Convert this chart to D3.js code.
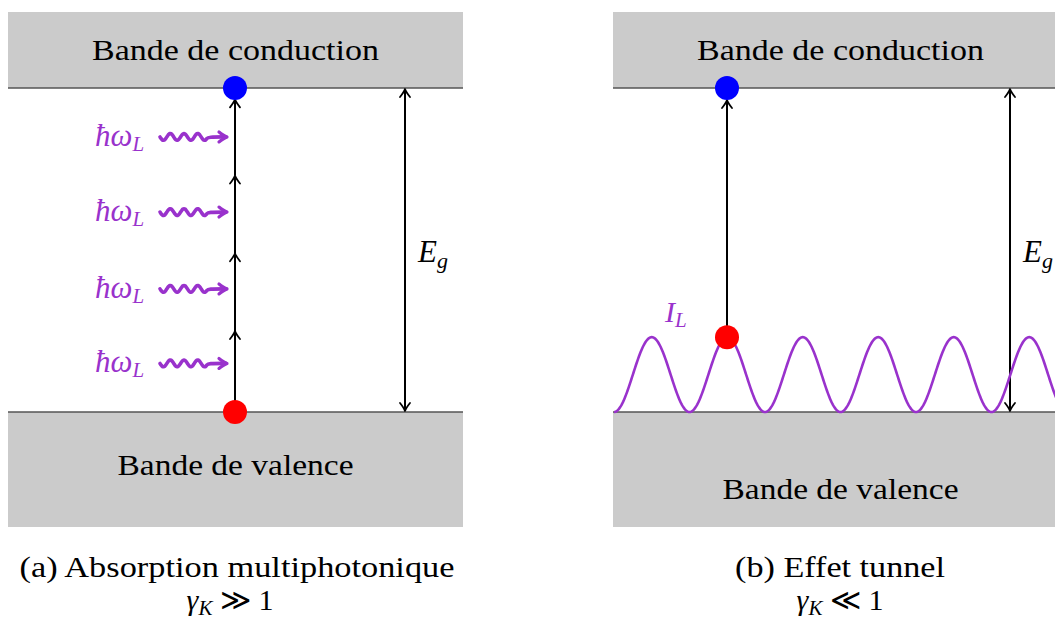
<!DOCTYPE html>
<html><head><meta charset="utf-8">
<script src="https://cdn.jsdelivr.net/npm/d3@7"></script>
<style>body{margin:0;background:#fff}svg{display:block}text{font-family:"Liberation Serif",serif}</style>
</head><body>
<svg id="c" width="1055" height="620"></svg>
<script>
// ---- data ----
const panels = ["a", "b"];
const bandTop = ["Bande de conduction", "Bande de conduction"];
const bandBottom = ["Bande de valence", "Bande de valence"];
const captions = ["(a) Absorption multiphotonique", "(b) Effet tunnel"];
const gammaRel = ["\u226B", "\u226A"];
const photonEnergies = [0.15, 0.38, 0.617, 0.849];      // wavy photon arrows
const stepEnergies = [0, 0.25, 0.49, 0.73, 0.965, 1];   // multiphoton ladder
const tunnelEnergy = 0.231;                             // start of tunnel transition
const waveAmplitude = [0, 0.231];                       // field oscillation range
const wavePeriods = 6;

const purple = "#9932CC";
const svg = d3.select("#c");

const y = d3.scaleLinear().domain([0, 1]).range([412, 88]);
const px = {
  a: d3.scaleLinear().domain([0, 1]).range([8, 463]),
  b: d3.scaleLinear().domain([0, 1]).range([613, 1068])
};

function head(g, x0, y0, dir, color, w) {
  let p;
  if (dir === "r") p = `M${x0-8},${y0-5} Q${x0-3},${y0-1} ${x0},${y0} Q${x0-3},${y0+1} ${x0-8},${y0+5}`;
  else p = `M${x0-5},${y0-8*dir} Q${x0-1},${y0-3*dir} ${x0},${y0} Q${x0+1},${y0-3*dir} ${x0+5},${y0-8*dir}`;
  g.append("path").attr("d", p).attr("fill", "none").attr("stroke", color)
    .attr("stroke-width", w).attr("stroke-linecap", "round").attr("stroke-linejoin", "round");
}

panels.forEach((p, i) => {
  const X = px[p];
  const g = svg.append("g");
  g.append("rect").attr("x", X(0)).attr("y", 12).attr("width", X(1) - X(0)).attr("height", y(1) - 12).attr("fill", "#cbcbcb");
  g.append("rect").attr("x", X(0)).attr("y", y(0)).attr("width", X(1) - X(0)).attr("height", 527 - y(0)).attr("fill", "#cbcbcb");
  g.append("line").attr("x1", X(0)).attr("x2", X(1)).attr("y1", y(1)).attr("y2", y(1)).attr("stroke", "#555").attr("stroke-width", 1.5);
  g.append("line").attr("x1", X(0)).attr("x2", X(1)).attr("y1", y(0)).attr("y2", y(0)).attr("stroke", "#555").attr("stroke-width", 1.5);
  g.append("text").attr("x", X(0.5)).attr("y", 60).attr("text-anchor", "middle").attr("font-size", 30)
    .attr("textLength", 287).attr("lengthAdjust", "spacingAndGlyphs").text(bandTop[i]);
  g.append("text").attr("x", X(0.5)).attr("y", i === 0 ? 475 : 499).attr("text-anchor", "middle").attr("font-size", 30)
    .attr("textLength", 236).attr("lengthAdjust", "spacingAndGlyphs").text(bandBottom[i]);
  g.append("text").attr("x", i === 0 ? 237 : 840).attr("y", 577).attr("text-anchor", "middle").attr("font-size", 30)
    .attr("textLength", i === 0 ? 435 : 210).attr("lengthAdjust", "spacingAndGlyphs").text(captions[i]);
  const gt = g.append("text").attr("x", i === 0 ? 230 : 840).attr("y", 610).attr("text-anchor", "middle").attr("font-size", 30);
  gt.append("tspan").attr("font-style", "italic").text("\u03B3");
  gt.append("tspan").attr("font-style", "italic").attr("font-size", 21).attr("dy", 5).text("K");
  gt.append("tspan").attr("dy", -5).text(" " + gammaRel[i] + " 1");

  const ex = i === 0 ? 405 : 1010;
  g.append("line").attr("x1", ex).attr("x2", ex).attr("y1", y(1) + 2).attr("y2", y(0) - 2).attr("stroke", "#000").attr("stroke-width", 2);
  head(g, ex, y(1) + 1, -1, "#000", 1.8);
  head(g, ex, y(0) - 1, 1, "#000", 1.8);
  const et = g.append("text").attr("x", ex + 13).attr("y", 262).attr("font-size", 31).attr("font-style", "italic");
  et.append("tspan").text("E");
  et.append("tspan").attr("font-size", 22).attr("dy", 6).text("g");
});

// ---- panel (a): multiphoton ladder ----
{
  const ax = 235;
  const g = svg.append("g");
  for (let k = 1; k < stepEnergies.length - 1; k++) {
    g.append("line").attr("x1", ax).attr("x2", ax).attr("y1", y(stepEnergies[k - 1])).attr("y2", y(stepEnergies[k]) + 1)
      .attr("stroke", "#000").attr("stroke-width", 2);
    head(g, ax, y(stepEnergies[k]), -1, "#000", 1.8);
  }
  photonEnergies.forEach(e => {
    const yy = y(e);
    const pts = d3.range(0, 49, 1).map(t => [160 + t, yy + 3.5 * Math.sin(t / 48 * 3.5 * 2 * Math.PI)]);
    pts.push([226, yy]);
    g.append("path").attr("d", d3.line().curve(d3.curveBasis)(pts)).attr("fill", "none").attr("stroke", purple).attr("stroke-width", 3.6).attr("stroke-linecap", "round");
    head(g, 227, yy, "r", purple, 3.2);
    const t = g.append("text").attr("x", 95).attr("y", yy + 9).attr("font-size", 31).attr("fill", purple).attr("font-style", "italic");
    t.append("tspan").text("\u0127\u03C9");
    t.append("tspan").attr("font-size", 21).attr("dy", 5).text("L");
  });
  g.append("circle").attr("cx", ax).attr("cy", y(1)).attr("r", 12).attr("fill", "#0000ff");
  g.append("circle").attr("cx", ax).attr("cy", y(0)).attr("r", 12).attr("fill", "#ff0000");
}

// ---- panel (b): tunnel ----
{
  const g = svg.append("g");
  const w = d3.scaleLinear().domain([0, wavePeriods]).range([614, 614 + 75.5 * wavePeriods]);
  const amp = d3.scaleLinear().domain([-1, 1]).range([y(waveAmplitude[0]), y(waveAmplitude[1])]);
  const pts = d3.range(0, wavePeriods + 0.001, 0.01).map(t => [w(t), amp(-Math.cos(2 * Math.PI * t))]);
  g.append("path").attr("d", d3.line()(pts)).attr("fill", "none").attr("stroke", purple).attr("stroke-width", 2.6);
  const tx = 727;
  g.append("line").attr("x1", tx).attr("x2", tx).attr("y1", y(tunnelEnergy)).attr("y2", y(1) + 12).attr("stroke", "#000").attr("stroke-width", 2);
  head(g, tx, y(1) + 12, -1, "#000", 1.8);
  g.append("circle").attr("cx", tx).attr("cy", y(1)).attr("r", 12).attr("fill", "#0000ff");
  g.append("circle").attr("cx", tx).attr("cy", y(tunnelEnergy)).attr("r", 12).attr("fill", "#ff0000");
  const t = g.append("text").attr("x", 665).attr("y", 322).attr("font-size", 30).attr("fill", purple).attr("font-style", "italic");
  t.append("tspan").text("I");
  t.append("tspan").attr("font-size", 21).attr("dy", 5).text("L");
}
</script>
</body></html>
